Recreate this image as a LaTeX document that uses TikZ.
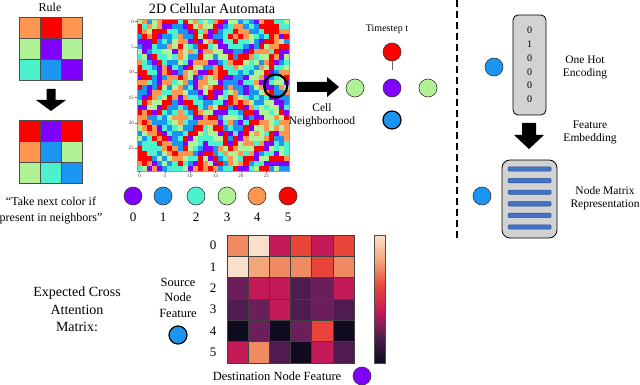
\documentclass[tikz,border=0pt]{standalone}
\usepackage{fontspec}
\setmainfont{Liberation Serif}
\usetikzlibrary{arrows.meta}
\definecolor{ca0}{HTML}{8000FF}
\definecolor{ca1}{HTML}{1A96F2}
\definecolor{ca2}{HTML}{4CF2CE}
\definecolor{ca3}{HTML}{B2F296}
\definecolor{ca4}{HTML}{FF964F}
\definecolor{ca5}{HTML}{FF0000}
\definecolor{hA}{HTML}{FAE0CB}
\definecolor{hB}{HTML}{F5A57A}
\definecolor{hC}{HTML}{F08A62}
\definecolor{hD}{HTML}{E8443A}
\definecolor{hE}{HTML}{C41A58}
\definecolor{hF}{HTML}{6A1E5A}
\definecolor{hG}{HTML}{4E1C4E}
\definecolor{hH}{HTML}{0F0A1E}
\definecolor{barblue}{HTML}{4472C4}
\definecolor{bardark}{HTML}{2F5597}
\pgfdeclareverticalshading{rocket}{100bp}{color(0bp)=(hH); color(25bp)=(hH); color(35bp)=(hG); color(45bp)=(hE); color(55bp)=(hD); color(65bp)=(hB); color(75bp)=(hA); color(100bp)=(hA)}
\begin{document}
\begin{tikzpicture}[x=1pt,y=-1pt,
  dot/.style={circle, draw=black!80, line width=0.6pt, minimum size=18pt, inner sep=0pt},
  bigdot/.style={circle, draw=black, line width=1.2pt, minimum size=18pt, inner sep=0pt},
  lbl/.style={font=\fontsize{11.5}{13}\selectfont, align=center, inner sep=0pt},
  cell/.style={draw=black!70, line width=0.6pt},
  hcell/.style={draw=black!75, line width=0.5pt},
  tick/.style={font=\fontsize{5}{6}\selectfont, inner sep=1pt, text=black!80}]
\useasboundingbox (0,0) rectangle (640,385);

% ---------- Rule ----------
\node[font=\fontsize{12}{14}\selectfont] (rule) at (50,7) {Rule};
\foreach \r/\c/\col in {0/0/ca4,0/1/ca5,0/2/ca4,1/0/ca3,1/1/ca0,1/2/ca3,2/0/ca2,2/1/ca1,2/2/ca0}
  \filldraw[cell, fill=\col] ({19+\c*21},{17+\r*21}) rectangle ++(21,21);
\fill (46.5,89) -- (55.5,89) -- (55.5,100) -- (66,100) -- (51,111) -- (36,100) -- (46.5,100) -- cycle;
\foreach \r/\c/\col in {0/0/ca5,0/1/ca0,0/2/ca5,1/0/ca4,1/1/ca1,1/2/ca3,2/0/ca3,2/1/ca2,2/2/ca1}
  \filldraw[cell, fill=\col] ({19+\c*21},{120+\r*21}) rectangle ++(21,21);
\node[font=\fontsize{12}{16}\selectfont, align=center] (quote) at (51,211) {``Take next color if\\present in neighbors''};

% ---------- Cellular automata ----------
\node[font=\fontsize{14.2}{16}\selectfont] (catitle) at (212,9) {2D Cellular Automata};
\foreach \r in {0,...,29}{
  \foreach \c in {0,...,29}{
    \pgfmathtruncatemacro\d{min(abs(\r-6)+abs(\c-8), abs(\r-19)+abs(\c-8), abs(\r-3)+abs(\c-19), abs(\r-19)+abs(\c-18), abs(\r-12)+abs(\c-29), abs(\r-29)+abs(\c-27), abs(\r-11)+abs(\c))}
    \pgfmathtruncatemacro\e{abs(\r-14)+abs(\c-15)}
    \pgfmathtruncatemacro\n{floor(mod((\r-\c+30)*5,7)/4)+floor(mod((\r+\c)*3,5)/3)}
    \pgfmathtruncatemacro\v{mod(601-\d+floor(\e/4)+\n,6)}
    \fill[fill=ca\v] ({137+\c*5.07},{19+\r*5.07}) rectangle ++(5.12,5.12);
  }
}
\draw[black!40, line width=0.3pt] (137,19) rectangle (289.1,171.1);
\foreach \k in {0,5,...,25}{
  \draw[black!60, line width=0.3pt] (137,{19+(\k+0.5)*5.07}) -- ++(-2,0) node[tick, anchor=east] (ty\k) {\k};
  \draw[black!60, line width=0.3pt] ({137+(\k+0.5)*5.07},171.1) -- ++(0,2) node[tick, anchor=north] (tx\k) {\k};
}
\node[circle, draw=black, line width=2.2pt, minimum size=23pt, inner sep=0pt] (focus) at (275.7,86) {};

\foreach \i/\col/\x in {0/ca0/133,1/ca1/163,2/ca2/196,3/ca3/227,4/ca4/257,5/ca5/288}{
  \node[dot, fill=\col] (c\i) at (\x,196) {};
  \node[font=\fontsize{13}{15}\selectfont] (n\i) at (\x,217) {\i};
}

% ---------- big right arrow ----------
\fill (297,82) -- (327,82) -- (327,77) -- (339,87) -- (327,97) -- (327,92) -- (297,92) -- cycle;

% ---------- neighborhood ----------
\node[font=\fontsize{10}{12}\selectfont] (tstep) at (387,29) {Timestep t};
\node[dot, fill=ca5] (nr) at (392,52) {};
\node[dot, fill=ca0] (nc) at (392,88) {};
\node[dot, fill=ca3] (nl) at (355,88) {};
\node[dot, fill=ca3] (nrt) at (428,88) {};
\node[bigdot, fill=ca1] (nb) at (392,120) {};
\coordinate (tend) at (392,70);
\draw[black!60, line width=0.5pt] (nr.south) -- (tend);
\node[lbl] (cellnb) at (322,115.5) {Cell\\Neighborhood};

% ---------- dashed separator ----------
\coordinate (dtop) at (457,0);
\coordinate (dbot) at (457,240);
\draw[line width=2pt, dash pattern=on 7pt off 4pt] (dtop) -- (dbot);

% ---------- one hot ----------
\node[draw, fill=gray!35, rounded corners=5pt, minimum width=33pt, minimum height=100pt, line width=0.8pt, align=center, font=\fontsize{10}{13.8}\selectfont, inner sep=0pt] (onehot) at (529.5,65) {0\\1\\0\\0\\0\\0};
\node[dot, fill=ca1] (ohdot) at (494,67) {};
\node[lbl] (ohlbl) at (585,67.5) {One Hot\\Encoding};
\fill (522,123) -- (536,123) -- (536,135) -- (544,135) -- (529,149) -- (514,135) -- (522,135) -- cycle;
\node[lbl] (felbl) at (590,132) {Feature\\Embedding};

% ---------- node matrix ----------
\node[draw, fill=gray!35, rounded corners=8pt, minimum width=55pt, minimum height=78pt, line width=0.8pt] (nodemat) at (529.5,199) {};
\foreach \y in {169,180.6,192.2,203.8,215.4,227}
  \filldraw[fill=barblue, draw=bardark, line width=0.5pt, rounded corners=1pt] (508,{\y-2.2}) rectangle (551,{\y+2.2});
\node[dot, fill=ca1] (nmdot) at (482,196) {};
\node[lbl] (nmlbl) at (605,198) {Node Matrix\\Representation};

% ---------- cross attention ----------
\node[font=\fontsize{14}{17.5}\selectfont, align=center] (ecam) at (77,309.5) {Expected Cross\\Attention\\Matrix:};
\node[font=\fontsize{12.5}{15.5}\selectfont, align=center] (src) at (178,297.5) {Source\\Node\\Feature};
\node[bigdot, fill=ca1] (srcdot) at (178,335) {};
\foreach [count=\i from 0] \col in {hC,hA,hE,hD,hE,hD, hA,hB,hC,hC,hD,hC, hF,hE,hE,hG,hF,hE, hG,hF,hE,hG,hF,hG, hH,hF,hH,hF,hD,hH, hE,hC,hG,hH,hE,hG}{
  \pgfmathtruncatemacro\r{int(\i/6)}
  \pgfmathtruncatemacro\c{mod(\i,6)}
  \filldraw[hcell, fill=\col] ({227+\c*21.17},{235+\r*21.33}) rectangle ++(21.17,21.33);
}
\foreach \k in {0,...,5}
  \node[font=\fontsize{13}{15}\selectfont] (hr\k) at (213,{245.7+\k*21.33}) {\k};
\shade[shading=rocket] (374,235) rectangle (385,363);
\draw[black!70, line width=0.5pt] (374,235) rectangle (385,363);
\node[font=\fontsize{12.5}{15}\selectfont] (dst) at (277,376) {Destination Node Feature};
\node[dot, fill=ca0] (dstdot) at (362,376) {};
\end{tikzpicture}
\end{document}
